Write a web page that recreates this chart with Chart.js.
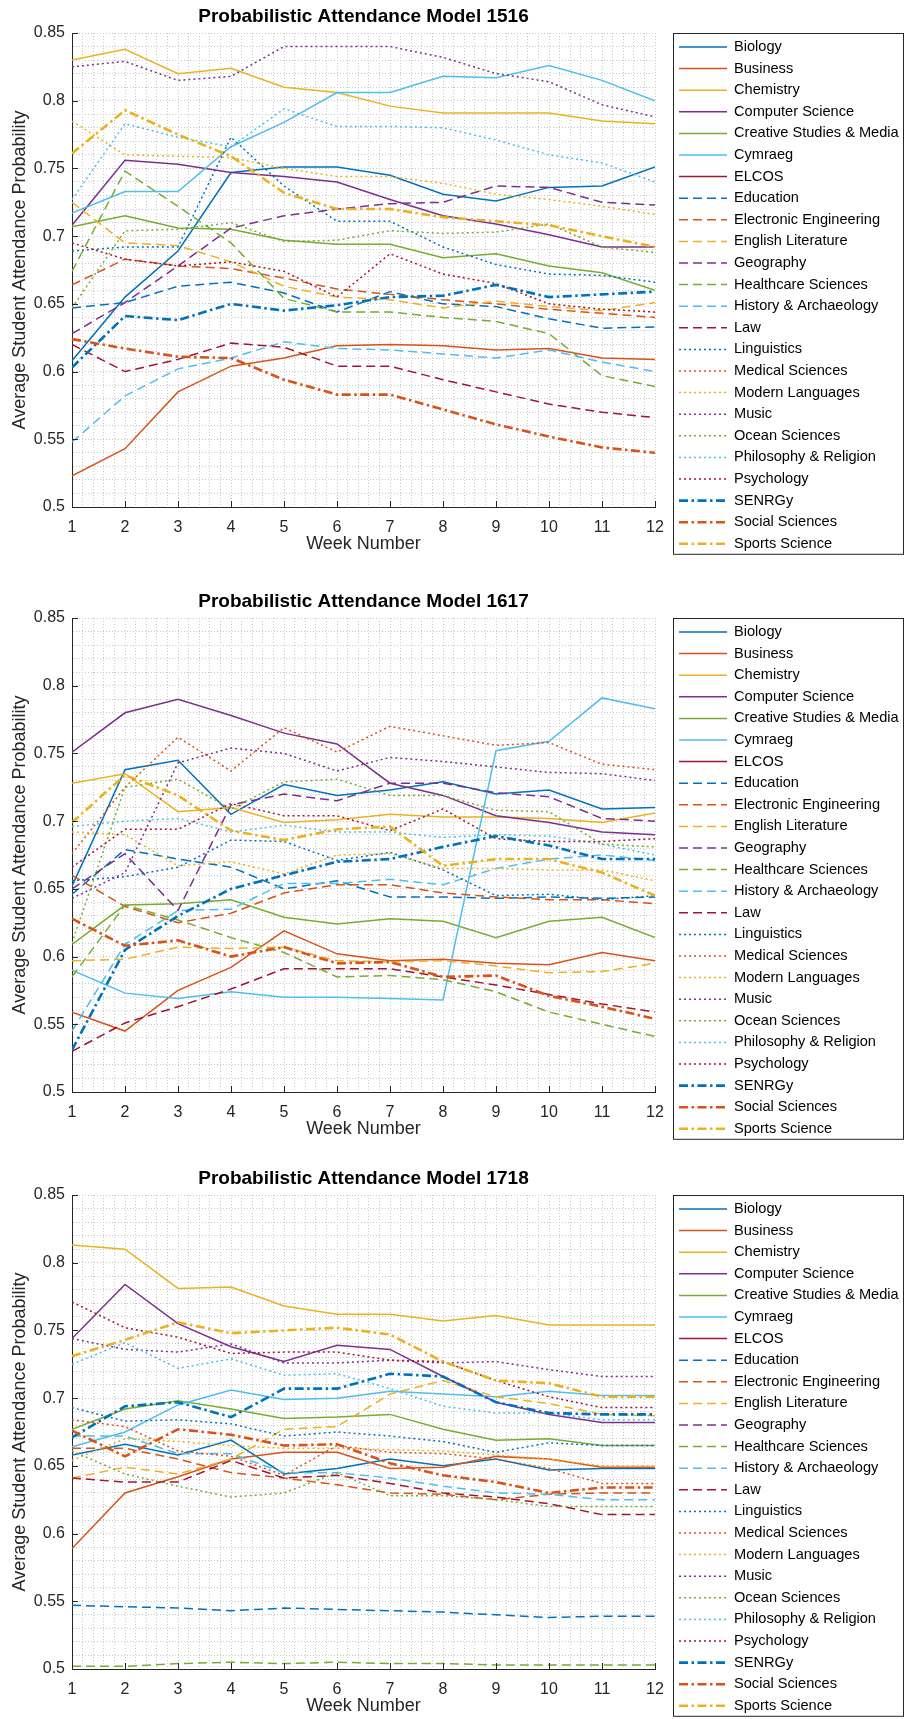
<!DOCTYPE html>
<html>
<head>
<meta charset="utf-8">
<title>Probabilistic Attendance Models</title>
<script src="https://cdn.jsdelivr.net/npm/chart.js@4.4.1/dist/chart.umd.min.js"></script>
<style>
  html, body { margin: 0; padding: 0; background: #fff; overflow: hidden; height: 1719px; }
  .panel { position: absolute; left: 0; width: 905px; height: 585px; }
</style>
</head>
<body>
<div class="panel" style="top:0px"><canvas id="c1516" width="905" height="585"></canvas></div>
<div class="panel" style="top:585px"><canvas id="c1617" width="905" height="585"></canvas></div>
<div class="panel" style="top:1162px"><canvas id="c1718" width="905" height="585"></canvas></div>
<script>
const weeks = [1, 2, 3, 4, 5, 6, 7, 8, 9, 10, 11, 12];
const yTicks = [0.5, 0.55, 0.6, 0.65, 0.7, 0.75, 0.8, 0.85];

const subjects = [
  'Biology', 'Business', 'Chemistry', 'Computer Science', 'Creative Studies & Media',
  'Cymraeg', 'ELCOS', 'Education', 'Electronic Engineering', 'English Literature',
  'Geography', 'Healthcare Sciences', 'History & Archaeology', 'Law', 'Linguistics',
  'Medical Sciences', 'Modern Languages', 'Music', 'Ocean Sciences', 'Philosophy & Religion',
  'Psychology', 'SENRGy', 'Social Sciences', 'Sports Science'
];

// one row per subject, same order as above (null = no data for that year)
const model1516 = [
  [0.608, 0.655, 0.689, 0.747, 0.751, 0.751, 0.745, 0.731, 0.726, 0.736, 0.737, 0.751],
  [0.523, 0.543, 0.585, 0.604, 0.610, 0.619, 0.620, 0.619, 0.616, 0.617, 0.610, 0.609],
  [0.830, 0.838, 0.820, 0.824, 0.810, 0.806, 0.796, 0.791, 0.791, 0.791, 0.785, 0.783],
  [0.708, 0.756, 0.753, 0.747, 0.744, 0.740, 0.727, 0.715, 0.709, 0.701, 0.692, 0.692],
  [0.707, 0.715, 0.706, 0.705, 0.697, 0.694, 0.694, 0.684, 0.687, 0.678, 0.673, 0.660],
  [0.717, 0.733, 0.733, 0.766, 0.784, 0.806, 0.806, 0.818, 0.817, 0.826, 0.815, 0.800],
  null,
  [0.647, 0.651, 0.663, 0.666, 0.658, 0.644, 0.659, 0.650, 0.648, 0.639, 0.632, 0.633],
  [0.664, 0.683, 0.678, 0.676, 0.669, 0.661, 0.657, 0.653, 0.650, 0.646, 0.643, 0.640],
  [0.725, 0.695, 0.693, 0.681, 0.663, 0.655, 0.653, 0.647, 0.652, 0.648, 0.645, 0.651],
  [0.628, 0.651, 0.678, 0.706, 0.715, 0.720, 0.724, 0.725, 0.737, 0.736, 0.725, 0.723],
  [0.674, 0.748, 0.722, 0.695, 0.654, 0.644, 0.644, 0.640, 0.637, 0.628, 0.597, 0.589],
  [0.548, 0.582, 0.602, 0.610, 0.622, 0.617, 0.616, 0.613, 0.610, 0.616, 0.607, 0.600],
  [0.620, 0.600, 0.609, 0.621, 0.618, 0.604, 0.604, 0.594, 0.585, 0.576, 0.570, 0.566],
  [0.689, 0.692, 0.692, 0.773, 0.737, 0.711, 0.711, 0.692, 0.679, 0.672, 0.671, 0.666],
  null,
  [0.785, 0.760, 0.759, 0.758, 0.750, 0.744, 0.744, 0.739, 0.731, 0.727, 0.722, 0.716],
  [0.825, 0.829, 0.815, 0.818, 0.840, 0.840, 0.840, 0.832, 0.820, 0.814, 0.797, 0.788],
  [0.647, 0.704, 0.705, 0.710, 0.696, 0.697, 0.704, 0.702, 0.703, 0.709, 0.692, 0.688],
  [0.727, 0.783, 0.773, 0.766, 0.794, 0.781, 0.781, 0.780, 0.771, 0.760, 0.754, 0.740],
  [0.695, 0.683, 0.678, 0.681, 0.674, 0.655, 0.687, 0.672, 0.665, 0.650, 0.646, 0.644],
  [0.603, 0.641, 0.638, 0.650, 0.645, 0.649, 0.655, 0.656, 0.664, 0.655, 0.657, 0.659],
  [0.624, 0.617, 0.611, 0.610, 0.594, 0.583, 0.583, 0.572, 0.561, 0.552, 0.544, 0.540],
  [0.761, 0.793, 0.775, 0.759, 0.732, 0.720, 0.720, 0.714, 0.711, 0.708, 0.700, 0.692]
];

const model1617 = [
  [0.652, 0.738, 0.745, 0.705, 0.727, 0.719, 0.723, 0.729, 0.720, 0.723, 0.709, 0.710],
  [0.559, 0.545, 0.575, 0.592, 0.619, 0.602, 0.597, 0.598, 0.595, 0.594, 0.603, 0.597],
  [0.728, 0.735, 0.707, 0.710, 0.699, 0.701, 0.705, 0.703, 0.703, 0.702, 0.699, 0.706],
  [0.751, 0.780, 0.790, 0.778, 0.765, 0.757, 0.728, 0.719, 0.704, 0.699, 0.692, 0.690],
  [0.609, 0.638, 0.639, 0.642, 0.629, 0.624, 0.628, 0.626, 0.614, 0.626, 0.629, 0.614],
  [0.590, 0.573, 0.569, 0.574, 0.570, 0.570, 0.569, 0.568, 0.752, 0.759, 0.791, 0.783],
  null,
  [0.646, 0.679, 0.672, 0.666, 0.650, 0.656, 0.644, 0.644, 0.643, 0.644, 0.643, 0.644],
  [0.660, 0.637, 0.625, 0.632, 0.647, 0.653, 0.653, 0.647, 0.644, 0.642, 0.642, 0.639],
  [0.597, 0.598, 0.607, 0.606, 0.607, 0.597, 0.596, 0.597, 0.593, 0.588, 0.589, 0.595],
  [0.650, 0.676, 0.634, 0.712, 0.720, 0.715, 0.728, 0.728, 0.721, 0.718, 0.702, 0.700],
  [0.585, 0.638, 0.627, 0.614, 0.603, 0.585, 0.586, 0.583, 0.574, 0.559, 0.550, 0.541],
  [0.545, 0.609, 0.634, 0.635, 0.654, 0.654, 0.657, 0.653, 0.665, 0.672, 0.675, 0.671],
  [0.530, 0.551, 0.563, 0.576, 0.591, 0.591, 0.591, 0.585, 0.579, 0.572, 0.565, 0.559],
  [0.656, 0.659, 0.666, 0.686, 0.685, 0.671, 0.677, 0.664, 0.645, 0.646, 0.642, 0.645],
  [0.676, 0.725, 0.762, 0.737, 0.769, 0.751, 0.770, 0.763, 0.756, 0.758, 0.742, 0.738],
  [0.692, 0.690, 0.667, 0.670, 0.661, 0.675, 0.676, 0.665, 0.665, 0.664, 0.664, 0.656],
  [0.643, 0.662, 0.743, 0.754, 0.750, 0.737, 0.747, 0.744, 0.740, 0.736, 0.735, 0.730],
  [0.610, 0.725, 0.731, 0.709, 0.729, 0.731, 0.719, 0.719, 0.708, 0.707, 0.683, 0.681],
  [0.696, 0.700, 0.702, 0.692, 0.697, 0.692, 0.692, 0.688, 0.690, 0.689, 0.683, 0.675],
  [0.666, 0.694, 0.694, 0.713, 0.704, 0.704, 0.693, 0.709, 0.687, 0.685, 0.685, 0.687],
  [0.531, 0.605, 0.630, 0.650, 0.660, 0.670, 0.672, 0.681, 0.689, 0.682, 0.672, 0.672],
  [0.628, 0.608, 0.612, 0.600, 0.607, 0.595, 0.596, 0.585, 0.586, 0.571, 0.563, 0.554],
  [0.699, 0.734, 0.719, 0.693, 0.686, 0.694, 0.696, 0.667, 0.672, 0.672, 0.662, 0.645]
];

const model1718 = [
  [0.658, 0.666, 0.658, 0.669, 0.644, 0.648, 0.655, 0.650, 0.655, 0.647, 0.648, 0.648],
  [0.589, 0.630, 0.642, 0.655, 0.660, 0.660, 0.648, 0.649, 0.657, 0.655, 0.649, 0.649],
  [0.813, 0.810, 0.781, 0.782, 0.768, 0.762, 0.762, 0.757, 0.761, 0.754, 0.754, 0.754],
  [0.744, 0.784, 0.755, 0.738, 0.727, 0.739, 0.736, 0.716, 0.697, 0.688, 0.682, 0.682],
  [0.677, 0.692, 0.698, 0.692, 0.685, 0.686, 0.688, 0.677, 0.669, 0.670, 0.665, 0.665],
  [0.664, 0.675, 0.695, 0.706, 0.699, 0.700, 0.705, 0.703, 0.701, 0.705, 0.702, 0.702],
  null,
  [0.547, 0.546, 0.545, 0.543, 0.545, 0.544, 0.543, 0.542, 0.540, 0.538, 0.539, 0.539],
  [0.663, 0.663, 0.655, 0.645, 0.641, 0.636, 0.630, 0.629, 0.625, 0.629, 0.630, 0.630],
  [0.641, 0.649, 0.644, 0.655, 0.677, 0.679, 0.703, 0.713, 0.701, 0.696, 0.688, 0.687],
  null,
  [0.502, 0.502, 0.504, 0.505, 0.504, 0.505, 0.504, 0.504, 0.503, 0.503, 0.503, 0.503],
  [0.672, 0.672, 0.659, 0.659, 0.645, 0.645, 0.641, 0.635, 0.630, 0.629, 0.625, 0.625],
  [0.641, 0.638, 0.638, 0.654, 0.641, 0.643, 0.637, 0.630, 0.627, 0.622, 0.614, 0.614],
  [0.693, 0.683, 0.684, 0.681, 0.672, 0.675, 0.672, 0.668, 0.660, 0.667, 0.665, 0.665],
  [0.684, 0.679, 0.661, 0.657, 0.643, 0.665, 0.660, 0.659, 0.655, 0.648, 0.637, 0.637],
  [0.654, 0.670, 0.668, 0.665, 0.663, 0.663, 0.662, 0.661, 0.658, 0.655, 0.650, 0.650],
  [0.744, 0.736, 0.734, 0.740, 0.726, 0.726, 0.728, 0.726, 0.727, 0.721, 0.716, 0.716],
  [0.661, 0.644, 0.635, 0.627, 0.630, 0.645, 0.628, 0.628, 0.625, 0.620, 0.620, 0.620],
  [0.725, 0.741, 0.722, 0.729, 0.717, 0.718, 0.707, 0.694, 0.689, 0.689, 0.684, 0.684],
  [0.771, 0.752, 0.745, 0.733, 0.734, 0.734, 0.728, 0.727, 0.713, 0.701, 0.693, 0.693],
  [0.671, 0.694, 0.697, 0.686, 0.707, 0.707, 0.718, 0.716, 0.697, 0.689, 0.688, 0.688],
  [0.676, 0.657, 0.677, 0.673, 0.665, 0.666, 0.652, 0.643, 0.638, 0.630, 0.634, 0.634],
  [0.731, 0.743, 0.756, 0.748, 0.750, 0.752, 0.747, 0.727, 0.713, 0.711, 0.701, 0.701]
];

// matlab style colour order, line style changes every 7 series
const palette = ['#0072BD', '#D95319', '#EDB120', '#7E2F8E', '#77AC30', '#4DBEEE', '#A2142F'];
const dashStyles = [[], [9, 5], [2, 3], [9, 3.5, 2.5, 3.5]];
const font = '"Liberation Sans", Arial, Helvetica, sans-serif';
const axisColor = '#262626';

Chart.defaults.font.family = font;

// splits every gap between major ticks into minor ones for the dotted grid
function withMinor(major, parts) {
    const out = [];
    major.forEach((v, i) => {
        out.push({ value: v, major: true });
        if (i < major.length - 1) {
            const step = (major[i + 1] - v) / parts;
            for (let k = 1; k < parts; k++) out.push({ value: v + k * step, major: false });
        }
    });
    return out;
}

const majorLabel = (value, index, ticks) => ticks[index].major ? String(value) : '';

// small tick marks pointing into the plot, like matlab
const innerTicks = {
    id: 'innerTicks',
    afterDatasetsDraw(chart) {
        const { ctx, chartArea: a, scales: { x, y } } = chart;
        ctx.save();
        ctx.strokeStyle = axisColor;
        ctx.lineWidth = 1;
        ctx.beginPath();
        x.ticks.forEach(t => {
            if (!t.major) return;
            const px = Math.round(x.getPixelForValue(t.value)) + 0.5;
            ctx.moveTo(px, a.bottom);
            ctx.lineTo(px, a.bottom - 6);
        });
        y.ticks.forEach(t => {
            if (!t.major) return;
            const py = Math.round(y.getPixelForValue(t.value)) + 0.5;
            ctx.moveTo(a.left, py);
            ctx.lineTo(a.left + 6, py);
        });
        ctx.stroke();
        ctx.restore();
    }
};

// legend with a frame at the right of the axes
const legendBox = { left: 673, right: 904, firstRow: 47, rowHeight: 21.6, lineFrom: 679, lineTo: 727, textX: 734 };
const framedLegend = {
    id: 'framedLegend',
    afterDraw(chart) {
        const { ctx, chartArea } = chart;
        const b = legendBox;
        const sets = chart.data.datasets;
        const top = chartArea.top;
        const bottom = b.firstRow + (sets.length - 1) * b.rowHeight + 10;
        ctx.save();
        ctx.fillStyle = '#fff';
        ctx.fillRect(b.left, top, b.right - b.left, bottom - top);
        ctx.strokeStyle = axisColor;
        ctx.lineWidth = 1;
        ctx.setLineDash([]);
        ctx.strokeRect(b.left + 0.5, top + 0.5, b.right - b.left - 1, bottom - top);
        ctx.font = '14.6px ' + font;
        ctx.textBaseline = 'middle';
        sets.forEach((ds, i) => {
            const y = b.firstRow + i * b.rowHeight;
            ctx.strokeStyle = ds.borderColor;
            ctx.lineWidth = ds.borderWidth;
            ctx.setLineDash(ds.borderDash);
            ctx.beginPath();
            ctx.moveTo(b.lineFrom, y);
            ctx.lineTo(b.lineTo, y);
            ctx.stroke();
            ctx.fillStyle = '#000';
            ctx.fillText(ds.label, b.textX, y);
        });
        ctx.restore();
    }
};

function makeDatasets(rows) {
    return subjects.map((name, i) => {
        const group = Math.floor(i / 7);
        return {
            label: name,
            data: rows[i] || weeks.map(() => null),
            borderColor: palette[i % 7],
            borderDash: dashStyles[group],
            borderWidth: group === 3 ? 2.6 : 1.5,
            pointRadius: 0,
            pointHoverRadius: 0,
            tension: 0,
            fill: false,
            order: subjects.length - i
        };
    });
}

function makeChart(id, title, rows) {
    const ctx = document.getElementById(id).getContext('2d');
    return new Chart(ctx, {
        type: 'line',
        data: { labels: weeks, datasets: makeDatasets(rows) },
        options: {
            responsive: false,
            animation: false,
            layout: { padding: { left: 0, right: 250, top: 0, bottom: 0 } },
            plugins: {
                legend: { display: false },
                tooltip: { enabled: false },
                title: {
                    display: true,
                    text: title,
                    fullSize: false,
                    color: '#000',
                    font: { size: 19, weight: 'bold' },
                    padding: { top: 5, bottom: 5.2 }
                }
            },
            scales: {
                x: {
                    type: 'linear',
                    min: 1,
                    max: 12,
                    afterBuildTicks: s => { s.ticks = withMinor(weeks, 5); },
                    afterFit: s => { s.height = 78; },
                    ticks: {
                        autoSkip: false, maxRotation: 0, minRotation: 0,
                        padding: 11, color: axisColor, font: { size: 16 },
                        callback: majorLabel
                    },
                    grid: { color: '#c8c8c8', lineWidth: 1, drawTicks: false },
                    border: { display: true, color: axisColor, width: 1, dash: [1, 2] },
                    title: {
                        display: true, text: 'Week Number', color: axisColor,
                        font: { size: 18 }, padding: { top: 0, bottom: 30 }
                    }
                },
                y: {
                    type: 'linear',
                    min: 0.5,
                    max: 0.85,
                    afterBuildTicks: s => { s.ticks = withMinor(yTicks, 5); },
                    afterFit: s => { s.width = 72; },
                    ticks: {
                        autoSkip: false, padding: 7, color: axisColor,
                        font: { size: 16 }, callback: majorLabel
                    },
                    grid: { color: '#c8c8c8', lineWidth: 1, drawTicks: false },
                    border: { display: true, color: axisColor, width: 1, dash: [1, 2] },
                    title: {
                        display: true, text: 'Average Student Attendance Probability',
                        color: axisColor, font: { size: 18 }, padding: { top: 9, bottom: 0 }
                    }
                }
            }
        },
        plugins: [innerTicks, framedLegend]
    });
}

makeChart('c1516', 'Probabilistic Attendance Model 1516', model1516);
makeChart('c1617', 'Probabilistic Attendance Model 1617', model1617);
makeChart('c1718', 'Probabilistic Attendance Model 1718', model1718);
</script>
</body>
</html>
